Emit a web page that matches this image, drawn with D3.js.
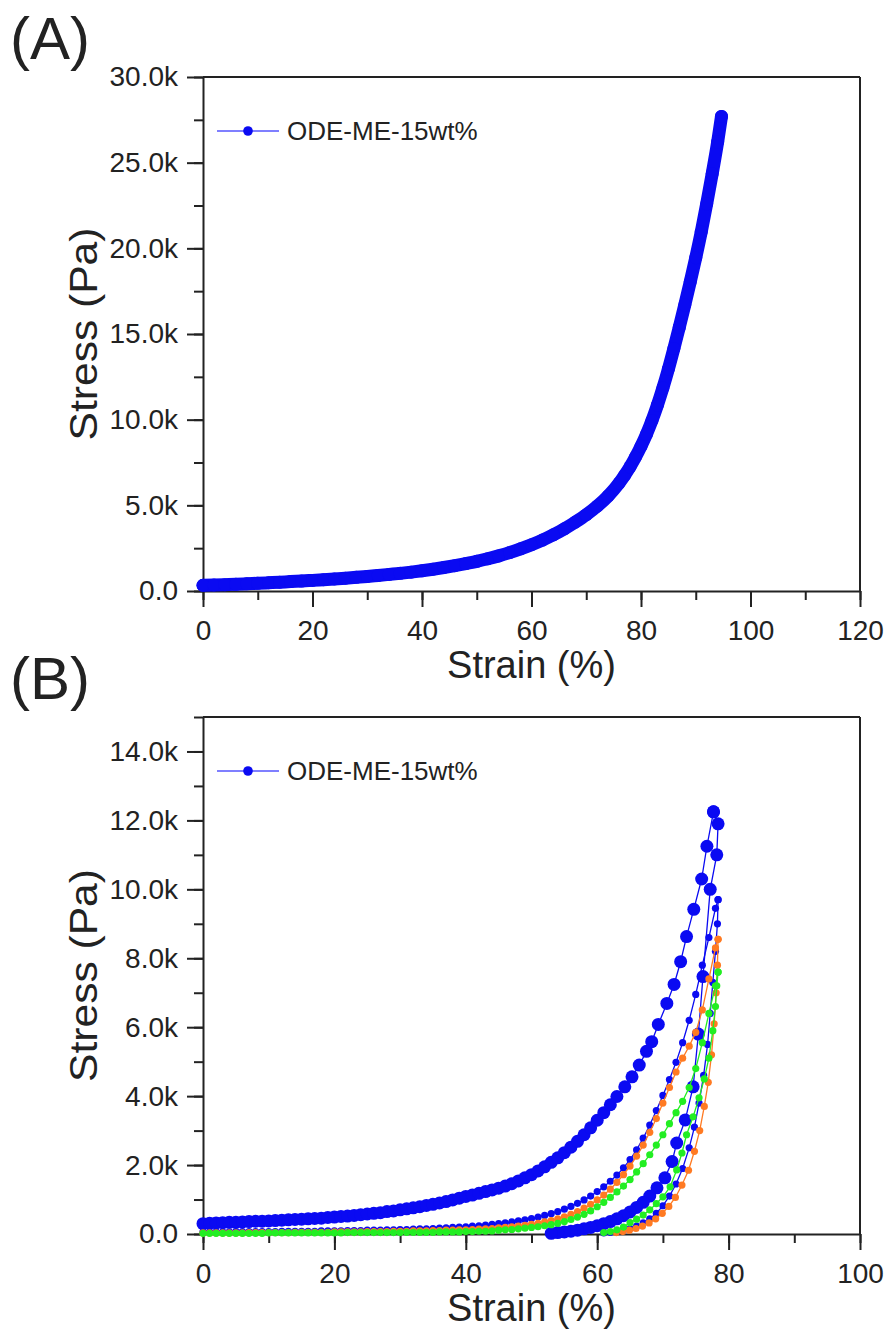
<!DOCTYPE html>
<html>
<head>
<meta charset="utf-8">
<script src="https://cdn.jsdelivr.net/npm/d3@7"></script>
<style>
  html, body { margin: 0; padding: 0; background: #fff; }
  svg text { font-family: "Liberation Sans", Arial, sans-serif; fill: #222; }
</style>
</head>
<body>
<svg id="chart" width="890" height="1331"></svg>
<script>
// ---------- Panel A: single compression curve (stress in kPa) ----------
const strainA = [0, 2, 4, 6, 8, 10, 12, 14, 16, 18, 20, 22, 24, 26, 28, 30, 32, 34, 36, 38,
  40, 42, 44, 46, 48, 50, 52, 54, 56, 58, 60, 62, 64, 66, 68, 70, 72, 74, 76, 77, 78,
  79, 80, 81, 82, 83, 84, 85, 86, 87, 88, 89, 90, 91, 92, 93, 94, 94.7];
const stressA = [0.33, 0.35, 0.37, 0.39, 0.42, 0.45, 0.48, 0.51, 0.55, 0.58, 0.62, 0.66, 0.70, 0.75, 0.80, 0.85, 0.91, 0.97, 1.03, 1.10,
  1.18, 1.27, 1.37, 1.48, 1.60, 1.73, 1.88, 2.05, 2.24, 2.46, 2.70, 2.97, 3.28, 3.63, 4.02, 4.45, 4.95, 5.55, 6.30, 6.75, 7.25,
  7.82, 8.45, 9.15, 9.95, 10.85, 11.85, 12.95, 14.15, 15.4, 16.7, 18.05, 19.45, 20.95, 22.6, 24.35, 26.2, 27.7];

// ---------- Panel B: cyclic loading / unloading (stress in kPa) ----------
// first cycle (large markers)
const strainB1Load = [0, 1, 2, 3, 4, 5, 6, 7, 8, 9, 10, 11, 12, 13, 14, 15, 16, 17, 18, 19,
  20, 21, 22, 23, 24, 25, 26, 27, 28, 29, 30, 31, 32, 33, 34, 35, 36, 37, 38, 39,
  40, 41, 42, 43, 44, 45, 46, 47, 48, 49, 50, 51, 52, 53, 54, 55, 56, 57, 58, 59,
  60, 61, 62, 63, 64.2, 65.3, 66.4, 67.5, 68.3, 69.3, 70.6, 71.7, 72.7, 73.6, 74.7, 75.9, 76.7, 77.7];
const stressB1Load = [0.30, 0.31, 0.32, 0.33, 0.34, 0.34, 0.35, 0.36, 0.37, 0.37, 0.38, 0.39, 0.40, 0.41, 0.42, 0.43, 0.44, 0.45, 0.46, 0.48,
  0.49, 0.51, 0.52, 0.54, 0.56, 0.58, 0.60, 0.62, 0.65, 0.67, 0.70, 0.73, 0.76, 0.79, 0.83, 0.86, 0.90, 0.94, 0.99, 1.04,
  1.09, 1.13, 1.18, 1.23, 1.28, 1.33, 1.39, 1.46, 1.54, 1.63, 1.72, 1.83, 1.95, 2.08, 2.21, 2.36, 2.52, 2.69, 2.88, 3.08,
  3.30, 3.52, 3.75, 3.99, 4.27, 4.56, 4.90, 5.30, 5.58, 6.08, 6.69, 7.24, 7.90, 8.63, 9.42, 10.3, 11.25, 12.25];
const strainB1Unload = [77.7, 78.4, 78.2, 77.2, 76.1, 75.4, 74.6, 73.4, 72.1, 71.4, 70.3, 69.1, 68, 67, 66, 65, 64, 63, 62, 61,
  60, 59, 58, 57, 56, 55, 54, 53];
const stressB1Unload = [12.25, 11.9, 11.0, 10.0, 7.47, 5.8, 4.27, 3.31, 2.64, 2.10, 1.63, 1.34, 1.10, 0.92, 0.77, 0.64, 0.53, 0.44, 0.36, 0.30,
  0.24, 0.19, 0.15, 0.11, 0.08, 0.06, 0.04, 0.02];

// later cycles share the same loading strain steps
const strainLoad = [0, 1, 2, 3, 4, 5, 6, 7, 8, 9, 10, 11, 12, 13, 14, 15, 16, 17, 18, 19,
  20, 21, 22, 23, 24, 25, 26, 27, 28, 29, 30, 31, 32, 33, 34, 35, 36, 37, 38, 39,
  40, 41, 42, 43, 44, 45, 46, 47, 48, 49, 50, 51, 52, 53, 54, 55, 56, 57, 58, 59,
  60, 61, 62, 63, 64, 65, 66, 67, 68, 69, 70, 71, 72, 73, 74, 75, 76, 77, 78, 78.4];
const stressB2Load = [0.06, 0.06, 0.06, 0.06, 0.06, 0.07, 0.07, 0.07, 0.07, 0.07, 0.07, 0.07, 0.08, 0.08, 0.08, 0.08, 0.08, 0.08, 0.09, 0.09,
  0.09, 0.09, 0.10, 0.10, 0.10, 0.11, 0.11, 0.11, 0.12, 0.12, 0.13, 0.13, 0.14, 0.15, 0.15, 0.16, 0.17, 0.18, 0.19, 0.20,
  0.21, 0.23, 0.24, 0.26, 0.28, 0.30, 0.32, 0.35, 0.38, 0.41, 0.45, 0.49, 0.54, 0.59, 0.65, 0.72, 0.80, 0.89, 0.99, 1.10,
  1.23, 1.37, 1.53, 1.71, 1.92, 2.16, 2.44, 2.78, 3.16, 3.58, 4.02, 4.48, 4.98, 5.55, 6.20, 6.95, 7.80, 8.60, 9.45, 9.70];
const stressB3Load = [0.03, 0.03, 0.03, 0.03, 0.03, 0.03, 0.03, 0.04, 0.04, 0.04, 0.04, 0.04, 0.04, 0.04, 0.05, 0.05, 0.05, 0.05, 0.05, 0.05,
  0.06, 0.06, 0.06, 0.06, 0.06, 0.07, 0.07, 0.07, 0.07, 0.08, 0.08, 0.08, 0.09, 0.09, 0.09, 0.10, 0.10, 0.11, 0.11, 0.12,
  0.12, 0.13, 0.14, 0.15, 0.16, 0.18, 0.19, 0.21, 0.23, 0.25, 0.28, 0.31, 0.35, 0.39, 0.44, 0.50, 0.57, 0.65, 0.75, 0.86,
  0.99, 1.13, 1.30, 1.50, 1.72, 1.97, 2.26, 2.58, 2.95, 3.35, 3.80, 4.25, 4.70, 5.10, 5.45, 5.85, 6.50, 7.40, 8.30, 8.55];
const stressB4Load = [0.02, 0.02, 0.02, 0.02, 0.02, 0.02, 0.02, 0.02, 0.02, 0.02, 0.03, 0.03, 0.03, 0.03, 0.03, 0.03, 0.03, 0.03, 0.03, 0.03,
  0.03, 0.03, 0.04, 0.04, 0.04, 0.04, 0.04, 0.04, 0.04, 0.04, 0.04, 0.05, 0.05, 0.05, 0.05, 0.05, 0.06, 0.06, 0.06, 0.06,
  0.07, 0.07, 0.08, 0.08, 0.09, 0.11, 0.12, 0.13, 0.15, 0.17, 0.19, 0.21, 0.24, 0.27, 0.31, 0.36, 0.42, 0.49, 0.57, 0.67,
  0.79, 0.92, 1.06, 1.22, 1.39, 1.58, 1.80, 2.04, 2.30, 2.58, 2.88, 3.20, 3.52, 3.85, 4.25, 4.80, 5.55, 6.40, 7.20, 7.60];

const strainB2Unload = [78.4, 78.3, 78.0, 77.6, 77.2, 76.8, 76.2, 75.5, 74.8, 74.0, 73.0, 72.0, 71.0, 70.0, 69.0, 68.0, 67.0, 66.0, 65.0, 64.0, 63.0, 62.0, 61.0];
const stressB2Unload = [9.70, 9.00, 8.20, 7.30, 6.40, 5.50, 4.60, 3.80, 3.10, 2.50, 1.90, 1.45, 1.10, 0.82, 0.60, 0.44, 0.32, 0.23, 0.16, 0.11, 0.07, 0.05, 0.03];
const strainB3Unload = [78.4, 78.3, 78.1, 77.8, 77.4, 76.9, 76.3, 75.6, 74.8, 73.9, 72.9, 71.9, 70.9, 69.9, 68.9, 67.9, 66.9, 65.9, 64.9, 63.9, 62.9];
const stressB3Unload = [8.55, 7.80, 7.00, 6.10, 5.20, 4.40, 3.70, 3.00, 2.40, 1.85, 1.42, 1.06, 0.80, 0.60, 0.44, 0.32, 0.23, 0.16, 0.11, 0.07, 0.04];
const strainB4Unload = [78.4, 78.2, 78.0, 77.6, 77.0, 76.3, 75.5, 74.6, 73.6, 72.9, 72.1, 71.1, 70.0, 69.0, 68.0, 67.0, 66.0, 65.0, 64.0, 63.0, 62.0, 61.0];
const stressB4Unload = [7.60, 7.20, 6.60, 5.90, 5.10, 4.50, 3.95, 3.40, 2.88, 2.35, 1.86, 1.37, 1.08, 0.88, 0.70, 0.55, 0.43, 0.33, 0.20, 0.12, 0.07, 0.04];

const legendLabel = "ODE-ME-15wt%";
const ticksA_x = [0, 20, 40, 60, 80, 100, 120];
const ticksA_y = [0, 5, 10, 15, 20, 25, 30];
const ticksB_x = [0, 20, 40, 60, 80, 100];
const ticksB_y = [0, 2, 4, 6, 8, 10, 12, 14];

const BLUE = "#0a0af2", ORANGE = "#ff7a22", GREEN = "#22ee22";

const svg = d3.select("#chart");
const fmtY = v => v === 0 ? "0.0" : v.toFixed(1) + "k";
const zip = (xs, ys) => xs.map((x, i) => [x, ys[i]]);

function panel(cfg) {
  const x = d3.scaleLinear().domain(cfg.xDomain).range([cfg.left, cfg.right]);
  const y = d3.scaleLinear().domain(cfg.yDomain).range([cfg.bottom, cfg.top]);
  const g = svg.append("g");

  // frame (top and right edges, no ticks)
  g.append("line").attr("x1", cfg.left).attr("x2", cfg.right).attr("y1", cfg.top).attr("y2", cfg.top)
    .attr("stroke", "#222").attr("stroke-width", 2);
  g.append("line").attr("x1", cfg.right).attr("x2", cfg.right).attr("y1", cfg.top).attr("y2", cfg.bottom)
    .attr("stroke", "#222").attr("stroke-width", 2);

  const styleAxis = sel => {
    sel.select(".domain").attr("stroke", "#222").attr("stroke-width", 2);
    sel.selectAll(".tick line").attr("stroke", "#222").attr("stroke-width", 2);
    sel.selectAll("text").attr("font-size", 28).attr("fill", "#222")
      .attr("font-family", "'Liberation Sans', Arial, sans-serif");
  };

  // minor ticks
  const minorX = d3.range(cfg.xDomain[0], cfg.xDomain[1] + 0.001, cfg.xMinor);
  const minorY = d3.range(cfg.yDomain[0], cfg.yDomain[1] + 0.001, cfg.yMinor);
  g.append("g").attr("transform", `translate(0,${cfg.bottom})`)
    .call(d3.axisBottom(x).tickValues(minorX).tickSize(9).tickFormat(""))
    .call(s => { s.select(".domain").remove(); s.selectAll("line").attr("stroke", "#222").attr("stroke-width", 2); });
  g.append("g").attr("transform", `translate(${cfg.left},0)`)
    .call(d3.axisLeft(y).tickValues(minorY).tickSize(9).tickFormat(""))
    .call(s => { s.select(".domain").remove(); s.selectAll("line").attr("stroke", "#222").attr("stroke-width", 2); });

  // major ticks
  g.append("g").attr("transform", `translate(0,${cfg.bottom})`)
    .call(d3.axisBottom(x).tickValues(cfg.xTicks).tickSize(16).tickSizeOuter(0).tickPadding(13))
    .call(styleAxis);
  g.append("g").attr("transform", `translate(${cfg.left},0)`)
    .call(d3.axisLeft(y).tickValues(cfg.yTicks).tickSize(16).tickSizeOuter(0).tickPadding(9).tickFormat(fmtY))
    .call(styleAxis);

  // axis titles
  g.append("text").attr("x", (cfg.left + cfg.right) / 2).attr("y", cfg.bottom + 87)
    .attr("text-anchor", "middle").attr("font-size", 38).text("Strain (%)");
  g.append("text").attr("transform", `translate(97,${(cfg.top + cfg.bottom) / 2}) rotate(-90) scale(1.12,1)`)
    .attr("text-anchor", "middle").attr("font-size", 38).text("Stress (Pa)");

  // panel letter
  g.append("text").attr("x", 10).attr("y", cfg.top - 18).attr("font-size", 60).text(cfg.letter);

  // legend
  const ly = cfg.top + 54;
  g.append("line").attr("x1", cfg.left + 14).attr("x2", cfg.left + 76).attr("y1", ly).attr("y2", ly)
    .attr("stroke", "#5555ff").attr("stroke-width", 1.6);
  g.append("circle").attr("cx", cfg.left + 45).attr("cy", ly).attr("r", 4.8).attr("fill", BLUE);
  g.append("text").attr("x", cfg.left + 84).attr("y", ly + 9).attr("font-size", 26).text(legendLabel);

  return { x, y, g };
}

function drawSeries(p, pts, color, r, opts = {}) {
  const line = d3.line().x(d => p.x(d[0])).y(d => p.y(d[1]));
  if (opts.curve) line.curve(opts.curve);
  p.g.append("path").datum(pts).attr("d", line).attr("fill", "none")
    .attr("stroke", color).attr("stroke-width", opts.width || 1.3)
    .attr("stroke-linejoin", "round").attr("stroke-linecap", "round");
  p.g.append("g").selectAll("circle").data(pts).join("circle")
    .attr("cx", d => p.x(d[0])).attr("cy", d => p.y(d[1])).attr("r", r).attr("fill", color);
}

// Panel A
const pA = panel({ letter: "(A)", left: 203, right: 860, top: 77, bottom: 591,
  xDomain: [0, 120], yDomain: [0, 30], xTicks: ticksA_x, yTicks: ticksA_y, xMinor: 10, yMinor: 2.5 });
drawSeries(pA, zip(strainA, stressA), BLUE, 6.5, { width: 13, curve: d3.curveMonotoneX });

// Panel B
const pB = panel({ letter: "(B)", left: 203, right: 860, top: 717, bottom: 1234,
  xDomain: [0, 100], yDomain: [0, 15], xTicks: ticksB_x, yTicks: ticksB_y, xMinor: 10, yMinor: 1 });
drawSeries(pB, zip(strainB1Load, stressB1Load), BLUE, 6.5);
drawSeries(pB, zip(strainB1Unload, stressB1Unload), BLUE, 6.5);
drawSeries(pB, zip(strainLoad, stressB2Load), BLUE, 3.6);
drawSeries(pB, zip(strainB2Unload, stressB2Unload), BLUE, 3.6);
drawSeries(pB, zip(strainLoad, stressB3Load), ORANGE, 3.6);
drawSeries(pB, zip(strainB3Unload, stressB3Unload), ORANGE, 3.6);
drawSeries(pB, zip(strainLoad, stressB4Load), GREEN, 3.6);
drawSeries(pB, zip(strainB4Unload, stressB4Unload), GREEN, 3.6);
</script>
</body>
</html>
